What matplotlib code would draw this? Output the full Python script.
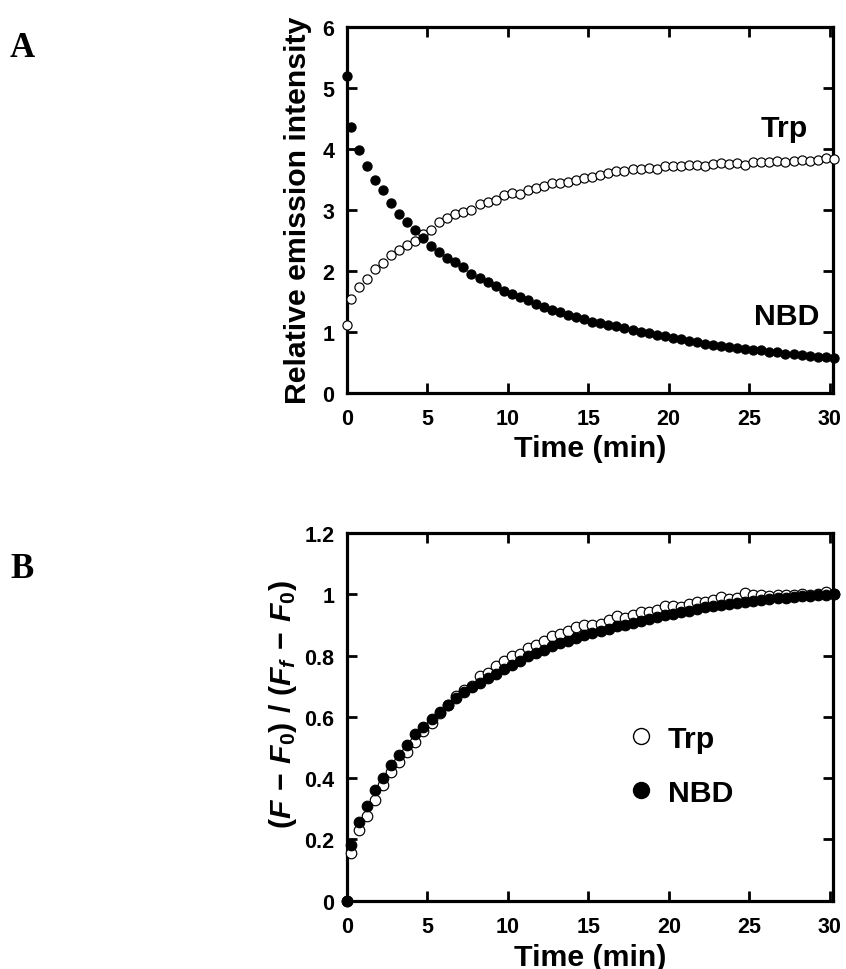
import matplotlib

matplotlib.use("Agg")
import matplotlib.pyplot as plt
from matplotlib.lines import Line2D
from matplotlib.ticker import FormatStrFormatter, MultipleLocator


OUTPUT_PNG = "out.png"

# sampling times (min), shared by all four series
time_min = [
    0.0, 0.25, 0.75, 1.25, 1.75, 2.25, 2.75, 3.25, 3.75, 4.25, 4.75,
    5.25, 5.75, 6.25, 6.75, 7.25, 7.75, 8.25, 8.75, 9.25, 9.75,
    10.25, 10.75, 11.25, 11.75, 12.25, 12.75, 13.25, 13.75, 14.25, 14.75,
    15.25, 15.75, 16.25, 16.75, 17.25, 17.75, 18.25, 18.75, 19.25, 19.75,
    20.25, 20.75, 21.25, 21.75, 22.25, 22.75, 23.25, 23.75, 24.25, 24.75,
    25.25, 25.75, 26.25, 26.75, 27.25, 27.75, 28.25, 28.75, 29.25, 29.75,
    30.25,
]

# panel A: relative emission intensity
trp_intensity = [
    1.10, 1.54, 1.73, 1.86, 2.02, 2.13, 2.25, 2.34, 2.42, 2.49, 2.60,
    2.66, 2.79, 2.86, 2.93, 2.96, 2.99, 3.09, 3.12, 3.16, 3.24,
    3.27, 3.26, 3.32, 3.35, 3.38, 3.43, 3.43, 3.46, 3.49, 3.52,
    3.54, 3.56, 3.60, 3.63, 3.64, 3.66, 3.67, 3.68, 3.66, 3.72,
    3.71, 3.72, 3.73, 3.74, 3.71, 3.75, 3.76, 3.75, 3.76, 3.74,
    3.78, 3.78, 3.78, 3.79, 3.78, 3.79, 3.81, 3.79, 3.82, 3.85,
    3.83,
]
nbd_intensity = [
    5.19, 4.36, 3.98, 3.72, 3.48, 3.33, 3.11, 2.93, 2.80, 2.66, 2.54,
    2.41, 2.30, 2.21, 2.14, 2.06, 1.95, 1.88, 1.81, 1.74, 1.67,
    1.62, 1.56, 1.51, 1.45, 1.41, 1.36, 1.32, 1.27, 1.24, 1.20,
    1.16, 1.14, 1.11, 1.09, 1.06, 1.03, 1.00, 0.98, 0.95, 0.92,
    0.90, 0.87, 0.85, 0.83, 0.80, 0.78, 0.77, 0.75, 0.73, 0.72,
    0.70, 0.69, 0.67, 0.66, 0.64, 0.63, 0.62, 0.60, 0.59, 0.58,
    0.56,
]

# panel B: normalised change (F - F0) / (Ff - F0)
trp_fraction = [
    0.0, 0.156, 0.232, 0.277, 0.329, 0.378, 0.421, 0.454, 0.486, 0.519, 0.555,
    0.580, 0.612, 0.640, 0.668, 0.686, 0.700, 0.732, 0.743, 0.765, 0.783,
    0.798, 0.805, 0.825, 0.834, 0.849, 0.863, 0.870, 0.881, 0.892, 0.900,
    0.900, 0.903, 0.917, 0.928, 0.922, 0.932, 0.941, 0.943, 0.950, 0.961,
    0.961, 0.957, 0.968, 0.974, 0.976, 0.981, 0.990, 0.985, 0.987, 1.004,
    0.998, 0.998, 0.995, 0.997, 0.996, 0.998, 1.001, 0.998, 1.002, 1.006,
    1.0,
]
nbd_fraction = [
    0.0, 0.183, 0.258, 0.310, 0.362, 0.400, 0.443, 0.476, 0.509, 0.544, 0.566,
    0.593, 0.617, 0.640, 0.662, 0.680, 0.696, 0.710, 0.726, 0.740, 0.756,
    0.769, 0.783, 0.798, 0.808, 0.819, 0.830, 0.841, 0.849, 0.857, 0.867,
    0.874, 0.881, 0.888, 0.895, 0.901, 0.907, 0.913, 0.919, 0.925, 0.931,
    0.937, 0.942, 0.947, 0.952, 0.957, 0.961, 0.965, 0.969, 0.972, 0.975,
    0.978, 0.981, 0.984, 0.987, 0.989, 0.991, 0.993, 0.995, 0.997, 0.998,
    1.0,
]

SANS = "Liberation Sans"
SERIF = "Liberation Serif"
LABEL_SIZE = 21.8
TICK_SIZE = 15.5


def style_axes(ax):
    for spine in ax.spines.values():
        spine.set_linewidth(2.3)
    ax.tick_params(
        which="both", direction="in", top=True, right=True,
        length=7, width=2, labelsize=TICK_SIZE, pad=9,
    )
    ax.tick_params(axis="x", pad=11)
    for label in ax.get_xticklabels() + ax.get_yticklabels():
        label.set_fontweight("bold")


def plot_pair(ax, trp, nbd, size):
    ax.plot(time_min, trp, linestyle="none", marker="o", markersize=size,
            markerfacecolor="white", markeredgecolor="black", markeredgewidth=0.85,
            clip_on=False, zorder=3)
    ax.plot(time_min, nbd, linestyle="none", marker="o", markersize=size,
            markerfacecolor="black", markeredgecolor="black", markeredgewidth=0.85,
            clip_on=False, zorder=4)


def main() -> None:
    plt.rcParams["font.family"] = [SANS, "DejaVu Sans"]
    plt.rcParams["font.weight"] = "bold"
    plt.rcParams["mathtext.fontset"] = "custom"
    plt.rcParams["mathtext.rm"] = "Liberation Sans:bold"
    plt.rcParams["mathtext.bf"] = "Liberation Sans:bold"
    plt.rcParams["mathtext.it"] = "Liberation Sans:bold:italic"

    fig = plt.figure(figsize=(8.46, 9.70), dpi=100)
    ax_a = fig.add_axes([0.4098, 0.5943, 0.5748, 0.3771])
    ax_b = fig.add_axes([0.4102, 0.0704, 0.5745, 0.3791])

    # panel A
    plot_pair(ax_a, trp_intensity, nbd_intensity, 6.6)
    ax_a.set_xlim(0, 30.2)
    ax_a.set_ylim(0, 6)
    ax_a.xaxis.set_major_locator(MultipleLocator(5))
    ax_a.yaxis.set_major_locator(MultipleLocator(1))
    style_axes(ax_a)
    ax_a.set_xlabel("Time (min)", fontsize=LABEL_SIZE, fontweight="bold", labelpad=4)
    ax_a.set_ylabel("Relative emission intensity", fontsize=LABEL_SIZE,
                    fontweight="bold", labelpad=7)
    ax_a.text(27.2, 4.21, "Trp", fontsize=LABEL_SIZE, fontweight="bold",
              ha="center", va="baseline")
    ax_a.text(27.3, 1.13, "NBD", fontsize=LABEL_SIZE, fontweight="bold",
              ha="center", va="baseline")

    # panel B
    plot_pair(ax_b, trp_fraction, nbd_fraction, 7.6)
    ax_b.set_xlim(0, 30.2)
    ax_b.set_ylim(0, 1.2)
    ax_b.xaxis.set_major_locator(MultipleLocator(5))
    ax_b.yaxis.set_major_locator(MultipleLocator(0.2))
    ax_b.yaxis.set_major_formatter(FormatStrFormatter("%g"))
    style_axes(ax_b)
    ax_b.set_xlabel("Time (min)", fontsize=LABEL_SIZE, fontweight="bold", labelpad=4)
    ax_b.set_ylabel(
        r"$(F\,-\,F_{\mathit{0}})\ /\ (F_{\mathit{f}}\,-\,F_{\mathit{0}})$",
        fontsize=LABEL_SIZE, labelpad=7,
    )
    ax_b.yaxis.set_label_coords(-0.098, 0.535)

    handles = [
        Line2D([0], [0], marker="o", color="none", markerfacecolor="white",
               markeredgecolor="black", markeredgewidth=1.0, markersize=11.5, label="Trp"),
        Line2D([0], [0], marker="o", color="none", markerfacecolor="black",
               markeredgecolor="black", markeredgewidth=1.0, markersize=11.5, label="NBD"),
    ]
    legend = ax_b.legend(
        handles=handles,
        loc="upper left",
        bbox_to_anchor=(0.579, 0.478),
        frameon=False,
        fontsize=LABEL_SIZE,
        handlelength=0.8,
        handletextpad=0.5,
        labelspacing=0.85,
        borderpad=0.0,
        borderaxespad=0.0,
    )
    for text in legend.get_texts():
        text.set_fontweight("bold")

    fig.text(22 / 846, 1 - 57 / 970, "A", fontsize=25, fontweight="bold",
             family=SERIF, ha="center", va="baseline")
    fig.text(22 / 846, 1 - 578 / 970, "B", fontsize=25, fontweight="bold",
             family=SERIF, ha="center", va="baseline")

    fig.savefig(OUTPUT_PNG, dpi=100)
    plt.close(fig)


if __name__ == "__main__":
    main()
